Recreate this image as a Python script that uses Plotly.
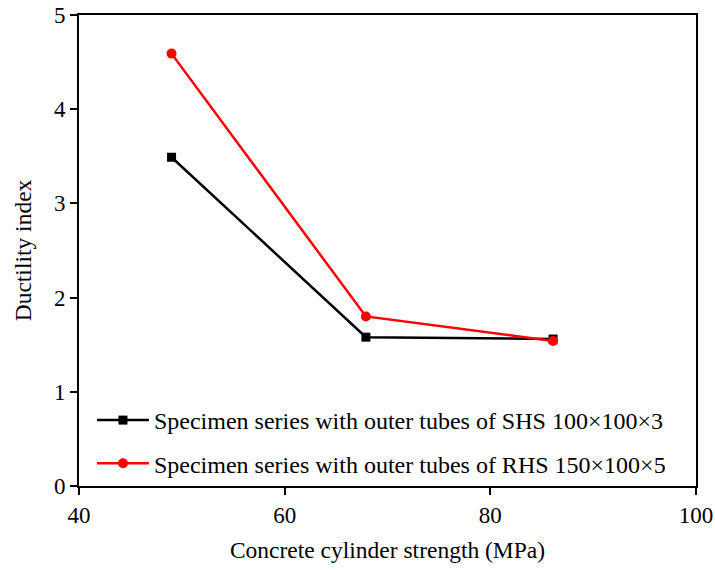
import plotly.graph_objects as go

strength = [49.0, 67.9, 86.1]
shs_ductility = [3.49, 1.58, 1.56]
rhs_ductility = [4.59, 1.80, 1.54]
shs_name = "Specimen series with outer tubes of SHS 100×100×3"
rhs_name = "Specimen series with outer tubes of RHS 150×100×5"

font = "Liberation Serif"

fig = go.Figure()
fig.add_trace(go.Scatter(x=strength, y=shs_ductility, name=shs_name, mode="lines+markers",
                         line=dict(color="black", width=2.5),
                         marker=dict(symbol="square", size=9, color="black"),
                         legendgroup="a"))
fig.add_trace(go.Scatter(x=strength, y=rhs_ductility, name=rhs_name, mode="lines+markers",
                         line=dict(color="#ff0000", width=2.5),
                         marker=dict(symbol="circle", size=10, color="#ff0000"),
                         legendgroup="b"))

axis_common = dict(showline=True, linecolor="black", linewidth=2, mirror=True,
                   ticks="outside", ticklen=7, tickwidth=2, tickcolor="black",
                   showgrid=False, zeroline=False, automargin=False,
                   tickfont=dict(family=font, size=23, color="black"))
fig.update_xaxes(range=[40, 100], dtick=20, title=dict(text="Concrete cylinder strength (MPa)",
                 font=dict(family=font, size=23.5, color="black"), standoff=15), **axis_common)
fig.update_yaxes(range=[0, 5], dtick=1, title=dict(text="Ductility index",
                 font=dict(family=font, size=23.5, color="black"), standoff=16), **axis_common)

fig.update_layout(
    width=715, height=570,
    margin=dict(l=79, r=19, t=15, b=84),
    plot_bgcolor="white", paper_bgcolor="white",
    font=dict(family=font, color="black"),
    legend=dict(x=0.021, y=0.0, xanchor="left", yanchor="bottom",
                bgcolor="rgba(0,0,0,0)", font=dict(family=font, size=24, color="black"),
                tracegroupgap=9, itemwidth=52),
)

fig.write_html("out.html")
